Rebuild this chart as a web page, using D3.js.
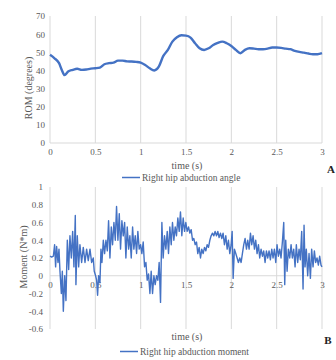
<!DOCTYPE html>
<html><head><meta charset="utf-8">
<script src="https://cdn.jsdelivr.net/npm/d3@7"></script>
<style>body{margin:0;background:#fff}svg{display:block}text{font-family:"Liberation Serif","Times New Roman",serif}</style>
</head><body><svg id="c" width="336" height="360"></svg>
<script>
const angleTime = [0,0.05,0.1,0.13,0.16,0.2,0.25,0.3,0.35,0.4,0.45,0.5,0.55,0.6,0.65,0.7,0.75,0.8,0.85,0.9,0.95,1.0,1.05,1.1,1.15,1.2,1.25,1.3,1.35,1.4,1.45,1.5,1.55,1.6,1.65,1.7,1.75,1.8,1.85,1.9,1.95,2.0,2.05,2.1,2.15,2.2,2.25,2.3,2.35,2.4,2.45,2.5,2.55,2.6,2.65,2.7,2.75,2.8,2.85,2.9,2.95,3.0];
const angleValues = [48.6,46.7,44,40.3,37.4,39.4,40.3,40.9,40.3,40.5,41,41.2,41.6,43.4,44,44.3,45.4,45.4,45,44.9,44.7,44.3,43,41.2,40,42.1,48,51.3,55.9,58.3,59.4,59.2,58.1,55,52.2,51.3,52.2,54,55.2,55.9,55,53.5,51.3,49.5,51.3,52.2,52,51.7,51.7,52,52.6,52.6,52.4,52,51.7,50.8,50.2,49.8,49.3,48.9,48.9,49.5];
const momentTime = [0,0.018,0.037,0.051,0.062,0.073,0.088,0.099,0.110,0.125,0.136,0.147,0.162,0.176,0.191,0.206,0.220,0.235,0.250,0.264,0.279,0.286,0.301,0.316,0.330,0.349,0.367,0.386,0.404,0.422,0.441,0.459,0.477,0.488,0.503,0.514,0.525,0.536,0.551,0.562,0.573,0.588,0.602,0.617,0.632,0.646,0.661,0.676,0.690,0.705,0.720,0.734,0.749,0.764,0.778,0.793,0.808,0.823,0.837,0.852,0.867,0.881,0.896,0.911,0.925,0.940,0.955,0.969,0.984,0.999,1.013,1.028,1.043,1.058,1.072,1.087,1.102,1.116,1.131,1.146,1.160,1.175,1.190,1.204,1.219,1.234,1.248,1.263,1.278,1.293,1.307,1.322,1.337,1.351,1.366,1.381,1.395,1.410,1.425,1.439,1.454,1.469,1.484,1.498,1.513,1.528,1.542,1.557,1.572,1.586,1.601,1.616,1.630,1.645,1.660,1.674,1.689,1.704,1.719,1.733,1.748,1.763,1.777,1.792,1.807,1.821,1.836,1.851,1.865,1.880,1.895,1.909,1.924,1.939,1.954,1.968,1.983,1.998,2.009,2.020,2.034,2.049,2.064,2.078,2.093,2.108,2.122,2.137,2.152,2.167,2.181,2.196,2.211,2.225,2.240,2.255,2.269,2.284,2.299,2.313,2.328,2.343,2.357,2.372,2.387,2.402,2.416,2.431,2.446,2.460,2.475,2.490,2.504,2.519,2.534,2.548,2.563,2.578,2.589,2.600,2.615,2.629,2.644,2.659,2.673,2.688,2.703,2.717,2.732,2.747,2.761,2.776,2.791,2.802,2.813,2.827,2.842,2.857,2.872,2.886,2.901,2.916,2.930,2.945,2.960,2.974,2.989,3.000];
const momentValues = [0.22,0.21,0.22,0.35,0.10,0.33,0.15,0.30,0.05,-0.20,0.05,-0.40,0.00,-0.28,0.40,0.07,0.45,0.20,0.50,0.10,0.68,-0.10,0.45,0.10,0.35,0.15,0.32,0.15,0.30,0.17,0.30,0.15,0.20,0.05,0.00,-0.05,-0.22,0.00,-0.08,0.30,0.15,0.40,0.25,0.40,0.28,0.62,0.20,0.55,0.35,0.60,0.40,0.78,0.40,0.70,0.30,0.62,0.45,0.60,0.20,0.55,0.30,0.45,0.20,0.55,0.30,0.45,0.25,0.50,0.30,0.35,0.25,0.38,0.10,0.15,-0.05,0.02,-0.20,0.05,-0.20,0.00,-0.10,0.00,-0.05,0.15,-0.30,0.60,0.20,0.45,0.30,0.50,0.25,0.55,0.35,0.60,0.40,0.55,0.45,0.65,0.50,0.72,0.45,0.65,0.50,0.60,0.50,0.55,0.48,0.52,0.40,0.42,0.35,0.38,0.25,0.32,0.20,0.30,0.25,0.32,0.28,0.35,0.32,0.40,0.45,0.48,0.45,0.50,0.45,0.50,0.43,0.48,0.42,0.48,0.35,0.45,0.30,0.40,0.25,0.35,0.50,-0.03,0.30,0.25,0.20,0.15,0.20,0.15,0.25,0.35,0.42,0.30,0.40,0.30,0.48,0.35,0.45,0.30,0.40,0.25,0.35,0.20,0.30,0.22,0.28,0.15,0.28,0.20,0.28,0.18,0.30,0.20,0.30,0.15,0.35,0.22,0.30,0.20,0.38,0.60,-0.10,0.40,0.05,0.30,0.20,0.35,0.20,0.30,0.10,0.35,0.15,0.30,0.18,0.50,-0.15,0.57,0.10,0.30,0.00,0.25,-0.03,0.30,0.10,0.28,0.15,0.20,0.12,0.22,0.12,0.10];
const xTicks = [0,0.5,1,1.5,2,2.5,3];
const xTickLabels = ["0","0.5","1","1.5","2","2.5","3"];
const angleTicks = [0,10,20,30,40,50,60,70];
const momentTicks = [-0.6,-0.4,-0.2,0,0.2,0.4,0.6,0.8,1];
const momentTickLabels = ["-0.6","-0.4","-0.2","0","0.2","0.4","0.6","0.8","1"];

const svg = d3.select("#c");
const BLUE = "#4472C4", GRID = "#d9d9d9", TXT = "#595959";

function panel(o){
  const x = d3.scaleLinear().domain([0,3]).range([50,322]);
  const y = d3.scaleLinear().domain(o.ydom).range(o.yrange);
  const g = svg.append("g");
  g.selectAll(".vg").data(xTicks).join("line")
    .attr("x1",d=>x(d)).attr("x2",d=>x(d)).attr("y1",o.yrange[1]).attr("y2",o.yrange[0])
    .attr("stroke",GRID).attr("stroke-width",1);
  g.append("line").attr("x1",x(0)).attr("x2",x(3)).attr("y1",y(0)).attr("y2",y(0))
    .attr("stroke",GRID).attr("stroke-width",1);
  const ya = d3.axisLeft(y).tickValues(o.yticks).tickSize(0).tickPadding(0).tickFormat((d,i)=>o.ylabels[i]);
  const yg = g.append("g").attr("transform",`translate(${o.ytickX},0)`).call(ya);
  yg.select(".domain").remove();
  yg.selectAll("text").attr("fill",TXT).style("font-size","9px").style("font-family","Liberation Serif");
  const xa = d3.axisBottom(x).tickValues(xTicks).tickSize(0).tickPadding(0).tickFormat((d,i)=>xTickLabels[i]);
  const xg = g.append("g").attr("transform",`translate(0,${o.xtickY})`).call(xa);
  xg.select(".domain").remove();
  xg.selectAll("text").attr("fill",TXT).style("font-size","9px").style("font-family","Liberation Serif");
  const line = d3.line().x(d=>x(d[0])).y(d=>y(d[1])).curve(o.curve);
  g.append("path").datum(o.t.map((t,i)=>[t,o.v[i]])).attr("d",line)
    .attr("fill","none").attr("stroke",BLUE).attr("stroke-width",o.sw).attr("stroke-linejoin","round");
  g.append("text").attr("x",187).attr("y",o.titleY).attr("text-anchor","middle").attr("dominant-baseline","central")
    .attr("fill",TXT).style("font-size","10px").text("time (s)");
  g.append("text").attr("transform",`translate(${o.ytX},${o.ytY}) rotate(-90)`).attr("text-anchor","middle")
    .attr("dominant-baseline","central").attr("fill",TXT).style("font-size","10px").text(o.ytitle);
  g.append("line").attr("x1",o.lx).attr("x2",o.lx+18).attr("y1",o.legY).attr("y2",o.legY).attr("stroke",BLUE).attr("stroke-width",1.5);
  g.append("text").attr("x",o.lx+20).attr("y",o.legY).attr("dominant-baseline","central").attr("fill",TXT)
    .style("font-size","9.5px").text(o.legend);
  g.append("text").attr("x",o.letX).attr("y",o.letY).attr("text-anchor","middle").attr("dominant-baseline","central")
    .attr("fill","#222").style("font-size","11px").style("font-weight","bold").text(o.letter);
}

panel({ydom:[0,70], yrange:[143,16], yticks:angleTicks, ylabels:angleTicks.map(String), ytickX:45, xtickY:149,
  t:angleTime, v:angleValues, sw:2.4, curve:d3.curveMonotoneX, titleY:165, ytX:28, ytY:88, ytitle:"ROM (degrees)",
  lx:122, legY:177.5, legend:"Right hip abduction angle", letX:331, letY:169, letter:"A"});
panel({ydom:[-0.6,1], yrange:[329,187], yticks:momentTicks, ylabels:momentTickLabels, ytickX:43, xtickY:282,
  t:momentTime, v:momentValues, sw:1.4, curve:d3.curveLinear, titleY:336, ytX:23, ytY:257, ytitle:"Moment (N*m)",
  lx:120, legY:351.5, legend:"Right hip abduction moment", letX:328, letY:340, letter:"B"});
</script></body></html>
